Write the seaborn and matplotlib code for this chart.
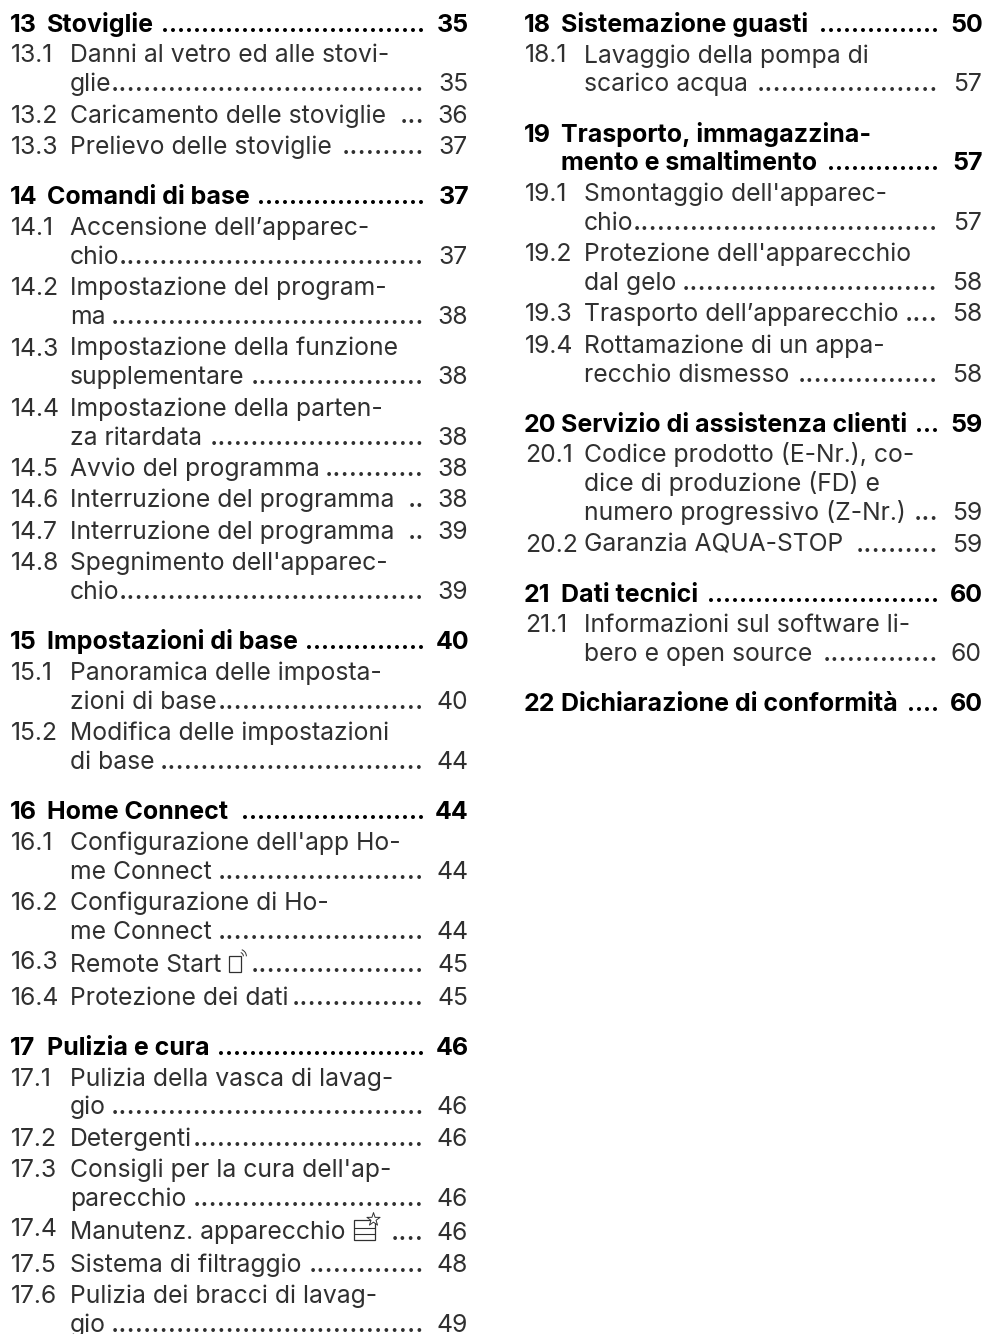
# Indice: two-column table of contents, real text laid out line by line.
import matplotlib

matplotlib.use("Agg")
import matplotlib.pyplot as plt
from matplotlib.patches import Arc, Rectangle
import seaborn as sns

left_numbers = ["13", "13.1", "13.2", "13.3",
                "14", "14.1", "14.2", "14.3", "14.4", "14.5", "14.6", "14.7", "14.8",
                "15", "15.1", "15.2",
                "16", "16.1", "16.2", "16.3", "16.4",
                "17", "17.1", "17.2", "17.3", "17.4", "17.5", "17.6"]
left_titles = ["Stoviglie", "Danni al vetro ed alle stovi-\nglie",
               "Caricamento delle stoviglie", "Prelievo delle stoviglie",
               "Comandi di base", "Accensione dell’apparec-\nchio",
               "Impostazione del program-\nma",
               "Impostazione della funzione\nsupplementare",
               "Impostazione della parten-\nza ritardata", "Avvio del programma",
               "Interruzione del programma", "Interruzione del programma",
               "Spegnimento dell'apparec-\nchio",
               "Impostazioni di base", "Panoramica delle imposta-\nzioni di base",
               "Modifica delle impostazioni\ndi base",
               "Home Connect", "Configurazione dell'app Ho-\nme Connect",
               "Configurazione di Ho-\nme Connect", "Remote Start", "Protezione dei dati",
               "Pulizia e cura", "Pulizia della vasca di lavag-\ngio", "Detergenti",
               "Consigli per la cura dell'ap-\nparecchio", "Manutenz. apparecchio",
               "Sistema di filtraggio", "Pulizia dei bracci di lavag-\ngio"]
left_pages = [35, 35, 36, 37,
              37, 37, 38, 38, 38, 38, 38, 39, 39,
              40, 40, 44,
              44, 44, 44, 45, 45,
              46, 46, 46, 46, 46, 48, 49]

right_numbers = ["18", "18.1", "19", "19.1", "19.2", "19.3", "19.4",
                 "20", "20.1", "20.2", "21", "21.1", "22"]
right_titles = ["Sistemazione guasti", "Lavaggio della pompa di\nscarico acqua",
                "Trasporto, immagazzina-\nmento e smaltimento",
                "Smontaggio dell'apparec-\nchio",
                "Protezione dell'apparecchio\ndal gelo", "Trasporto dell’apparecchio",
                "Rottamazione di un appa-\nrecchio dismesso",
                "Servizio di assistenza clienti",
                "Codice prodotto (E-Nr.), co-\ndice di produzione (FD) e\nnumero progressivo (Z-Nr.)",
                "Garanzia AQUA-STOP", "Dati tecnici",
                "Informazioni sul software li-\nbero e open source",
                "Dichiarazione di conformità"]
right_pages = [50, 57, 57, 57, 58, 58, 58, 59, 59, 59, 60, 60, 60]

FONT = "Inter"
SIZE = 17.8
BOLD_SIZE = 18.0
GREY = "#303030"
DOT_STEP = 8.0

sns.set_theme(style="white")
plt.rcParams["font.family"] = [FONT, "DejaVu Sans"]

fig, ax = plt.subplots(figsize=(9.86, 13.34), dpi=100)
ax.set_position([0, 0, 1, 1])
ax.set_xlim(0, 986)
ax.set_ylim(1334, 0)
ax.set_axis_off()
sns.despine(ax=ax, left=True, bottom=True)
renderer = fig.canvas.get_renderer()


def text_end(artist):
    return ax.transData.inverted().transform(artist.get_window_extent(renderer))[1, 0]


def dot_advance(size, weight):
    # advance of one dot at this size, from the widths of two dot runs
    widths = []
    for n in (20, 40):
        probe = ax.text(0, 0, "." * n, fontsize=size, fontweight=weight)
        widths.append(probe.get_window_extent(renderer).width)
        probe.remove()
    return (widths[1] - widths[0]) / 20


def draw_remote_icon(x, y):
    ax.add_patch(Rectangle((x, y - 16), 12, 16, fill=False, ec=GREY, lw=0.9))
    for r in (8, 14):
        ax.add_patch(Arc((x + 10, y - 16), r, r, theta1=-70, theta2=0, ec=GREY, lw=0.7))


def draw_star_icon(x, y):
    ax.add_patch(Rectangle((x, y - 20), 21, 20, fill=False, ec=GREY, lw=0.9))
    ax.plot([x, x + 21], [y - 12, y - 12], color=GREY, lw=0.8)
    ax.plot([x, x + 21], [y - 6, y - 6], color=GREY, lw=0.8)
    ax.scatter([x + 19], [y - 21], marker="*", s=100, fc="white", ec=GREY, lw=0.7, zorder=3)


def draw_column(numbers, titles, pages, offset):
    y = 32.0
    prev_head = True
    for i, (num, title, page) in enumerate(zip(numbers, titles, pages)):
        head = "." not in num
        icon = num in ("16.3", "17.4")
        if i > 0:
            if head:
                y += 50.3
            elif prev_head:
                y += 30.5
            else:
                y += 31.45
        if icon:
            y += 2.0
        weight = "bold" if head else "normal"
        color = "black" if head else GREY
        size = BOLD_SIZE if head else SIZE
        num_x = offset + (10 if head else 11)
        text_x = offset + (47 if head else 70)
        dots_end = offset + (425 if head else 424)
        ax.text(num_x, y - (3 if icon else 0), num, fontsize=size, fontweight=weight,
                color=color, va="baseline")
        lines = title.split("\n")
        for j, line in enumerate(lines):
            if j > 0:
                y += 28.8
            label = ax.text(text_x, y, line, fontsize=size, fontweight=weight,
                            color=color, va="baseline")
        end = text_end(label)
        if num == "16.3":
            draw_remote_icon(end + 8, y)
            end += 26
        elif num == "17.4":
            draw_star_icon(end + 8, y)
            end += 36
        # dot leader up to the fixed stop before the page number
        count = int((dots_end - end - 7) // DOT_STEP)
        if count > 0:
            # leader size picked so one dot advances DOT_STEP pixels
            leader_size = size * DOT_STEP / dot_advance(size, weight)
            ax.text(dots_end, y, "." * count, fontsize=leader_size, fontweight=weight,
                    color=color, ha="right", va="baseline")
        ax.text(offset + (469 if head else 468), y, str(page), fontsize=size, fontweight=weight,
                color=color, ha="right", va="baseline")
        if icon:
            y += 1
        prev_head = head


draw_column(left_numbers, left_titles, left_pages, 0)
draw_column(right_numbers, right_titles, right_pages, 514)

fig.savefig("out.png", dpi=100, facecolor="white")
plt.close(fig)
